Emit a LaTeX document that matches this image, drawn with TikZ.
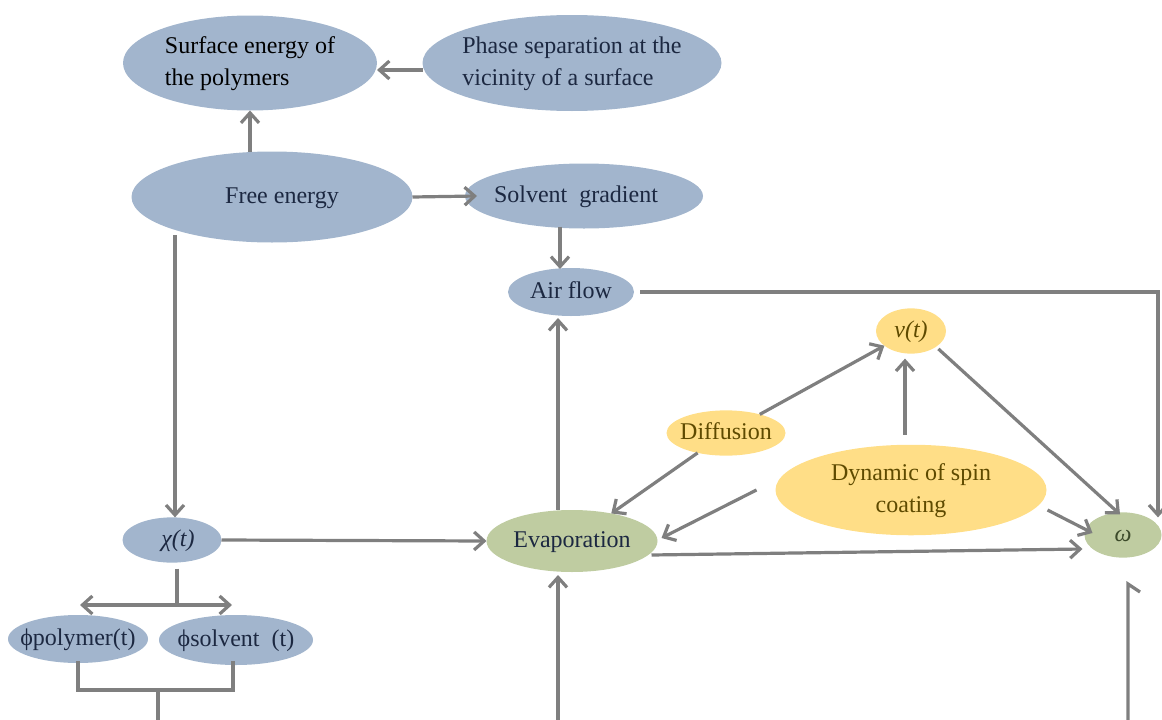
\documentclass[tikz,border=0pt]{standalone}
\usepackage{fontspec}
\setmainfont{Liberation Serif}
\usetikzlibrary{arrows.meta,shapes.geometric,calc}

\definecolor{bluefill}{HTML}{A2B5CD}
\definecolor{yellowfill}{HTML}{FFDE87}
\definecolor{greenfill}{HTML}{BFCCA1}
\definecolor{linegray}{HTML}{7F7F7F}
\definecolor{navy}{HTML}{1C2841}
\definecolor{brown}{HTML}{5E4A00}
\definecolor{olive}{HTML}{3C4A2A}

\newcommand{\ztext}[2][c]{\makebox[0pt]{\begin{tabular}{@{}#1@{}}#2\end{tabular}}}

\begin{document}
\begin{tikzpicture}[->,>={Straight Barb[length=10pt,width=18pt]},x=1pt,y=-1pt,
		line width=3.2pt,color=linegray]
		\tikzstyle{every node}=[font=\fontsize{24}{32}\selectfont]
		\tikzstyle{bubble}=[ellipse,inner sep=0pt,outer sep=0pt]
		\tikzstyle{blue bubble}=[bubble,fill=bluefill,text=navy]
		\tikzstyle{yellow bubble}=[bubble,fill=yellowfill,text=brown]
		\tikzstyle{green bubble}=[bubble,fill=greenfill,text=olive]
		\useasboundingbox (0,0) rectangle (1162,720);
		% nodes
		\node[blue bubble,text=black,minimum width=254pt,minimum height=95pt] (surf) at (250,63) {\ztext[l]{Surface energy of\\the polymers}};
		\node[blue bubble,minimum width=299pt,minimum height=96pt] (phase) at (572,63) {\ztext[l]{Phase separation at the\\vicinity of a surface}};
		\node[blue bubble,minimum width=281pt,minimum height=91pt] (free) at (272,197) {\ztext{\hspace*{20pt}Free energy}};
		\node[blue bubble,minimum width=238pt,minimum height=65pt] (grad) at (584,196) {\ztext{Solvent\ \ gradient\hspace*{16pt}}};
		\node[blue bubble,minimum width=126pt,minimum height=48pt] (air) at (571,292) {\ztext{Air flow}};
		\node[green bubble,text=navy,minimum width=171pt,minimum height=62pt] (evap) at (572,541) {\ztext{Evaporation}};
		\node[yellow bubble,minimum width=70pt,minimum height=42pt] (nu) at (911,331) {\ztext{\itshape ν(t)}};
		\node[yellow bubble,minimum width=119pt,minimum height=45pt] (diff) at (726,433) {\ztext{Diffusion}};
		\node[yellow bubble,minimum width=271pt,minimum height=90pt] (dyn) at (911,490) {\ztext{Dynamic of spin\\coating}};
		\node[green bubble,minimum width=77pt,minimum height=35pt] (omega) at (1123,535) {\ztext{\itshape ω}};
		\node[blue bubble,minimum width=99pt,minimum height=44pt] (chi) at (172,540) {\ztext{\hspace*{12pt}\itshape χ(t)}};
		\node[blue bubble,minimum width=140pt,minimum height=48pt] (phipoly) at (78,639) {\ztext{ϕpolymer(t)}};
		\node[blue bubble,minimum width=154pt,minimum height=50pt] (phisolv) at (236,640) {\ztext{ϕsolvent\ \ (t)}};
		% free ends
		\coordinate (fe) at (175,235);
		\coordinate (chib) at (177,605);
		\coordinate (jn) at (158,690);
		\coordinate (jnend) at (158,720);
		\coordinate (evin) at (558,720);
		\coordinate (rb) at (1128,720);
		\coordinate (rt) at (1128,584);
		\coordinate (rh) at (1140,592);
		% connectors
		\draw ([yshift=-7pt]phase.west) -- ([yshift=-7pt]surf.east);
		\draw (free.north -| surf.south) -- (surf.south);
		\draw (free.east) -- ($(grad.west)+(12,0)$);
		\draw ($(grad.south)+(-24,-2)$) -- ($(air.north)+(-11,1)$);
		\draw ($(air.east)+(6,0)$) -| ($(omega.north)+(35,5)$);
		\draw ($(evap.north)+(-14,0)$) -- ($(air.south)+(-13,2)$);
		\draw (fe) -- (fe |- chi.north);
		\draw (chi.east) -- (evap.west);
		\draw[-] ($(chi.south -| chib)+(0,6)$) -- (chib);
		\draw[<->] ($(chib -| phipoly.north)+(2,0)$) -- ($(chib -| phisolv.north)+(-4,0)$);
		\draw[-] ($(phipoly.south)+(0,-2)$) -- (phipoly.south |- jn) -- ($(phisolv.south |- jn)+(-3,0)$) -- ($(phisolv.south)+(-3,-4)$);
		\draw[-] (jn) -- (jnend);
		\draw (evin) -- ($(evin |- evap.south)+(0,3)$);
		\draw[-] (rb) -- (rt) -- (rh);
		\draw (diff) -- (nu);
		\draw (diff) -- (evap);
		\draw ($(dyn.north)+(-6,-10)$) -- ($(nu.south)+(-6,5)$);
		\draw ($(dyn.west)+(-19,0)$) -- ($(evap.east)+(4,-3)$);
		\draw ($(dyn.east)+(1,20)$) -- ($(omega.west)+(8,-2)$);
		\draw ($(nu.-40)+(6,0)$) -- ($(omega.north)+(-3,2)$);
		\draw ($(evap.east)+(-6,14)$) -- ($(omega.west)+(-2,14)$);
	\end{tikzpicture}
\end{document}
